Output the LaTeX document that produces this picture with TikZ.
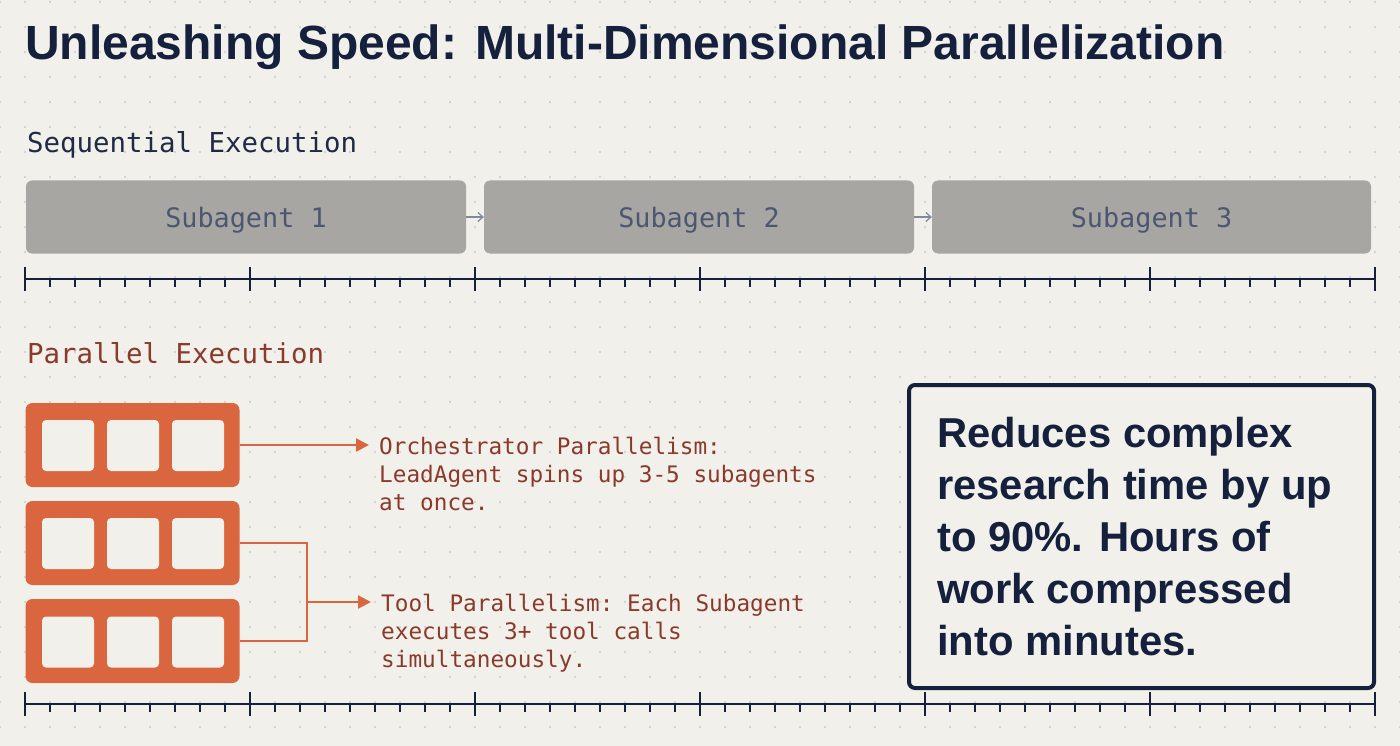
\documentclass[tikz,border=0pt]{standalone}
\usepackage{fontspec}
\setmainfont{Liberation Sans}
\setmonofont{DejaVu Sans Mono}
\usepackage{xcolor}
\usetikzlibrary{arrows.meta,positioning,calc}

\definecolor{bgcol}{HTML}{F2F0EB}
\definecolor{dotcol}{HTML}{C9CBD1}
\definecolor{navy}{HTML}{15203D}
\definecolor{boxgray}{HTML}{A8A6A2}
\definecolor{slate}{HTML}{4B5670}
\definecolor{orangecol}{HTML}{D9663F}
\definecolor{rust}{HTML}{8A3A2A}
\definecolor{arrgray}{HTML}{7F8AA0}

\begin{document}
\begin{tikzpicture}[
    x=1pt, y=-1pt,
    every node/.style={inner sep=0pt},
    heading/.style={anchor=base west, font=\bfseries\fontsize{48}{56}\selectfont, text=navy},
    lane/.style={anchor=base west, font=\ttfamily\fontsize{27.4}{32}\selectfont},
    seqbox/.style={fill=boxgray, rounded corners=6pt, minimum height=73pt, text depth=0pt, text=slate, font=\ttfamily\fontsize{26.8}{32}\selectfont},
    seqarrow/.style={draw=arrgray, line width=1.2pt, -{Straight Barb[length=5pt, width=9pt]}},
    block/.style={fill=orangecol, rounded corners=7pt, minimum width=214pt, minimum height=84pt},
    slot/.style={fill=bgcol, rounded corners=4pt, minimum width=52pt, minimum height=51pt},
    desc/.style={anchor=north west, align=left, text=rust, font=\ttfamily\fontsize{22.7}{28}\selectfont},
    link/.style={draw=orangecol, line width=2.2pt},
    linkarrow/.style={link, -{Triangle[length=13pt, width=13pt]}},
    axis/.style={draw=navy, line width=2.6pt},
    majortick/.style={draw=navy, line width=2.8pt},
    minortick/.style={draw=navy, line width=1.6pt},
]

% Background and dot grid
\useasboundingbox (0,0) rectangle (1400,746);
\fill[bgcol] (0,0) rectangle (1400,746);
\foreach \i in {0,...,56} {
  \foreach \j in {0,...,29} {
    \fill[dotcol] (25*\i,2+25*\j) circle (1.1pt);
  }
}

% Title
\node[heading] (title) at (25,60) {Unleashing Speed: Multi-Dimensional Parallelization};

% Sequential execution
\node[lane, text=navy!90!gray] (seqlabel) at (27,153) {Sequential Execution};
\node[seqbox, minimum width=440pt] (sub1) at (246,217) {Subagent 1};
\node[seqbox, minimum width=430pt] (sub2) at (699,217) {Subagent 2};
\node[seqbox, minimum width=439pt] (sub3) at (1151.5,217) {Subagent 3};
\draw[seqarrow] (sub1) -- (sub2);
\draw[seqarrow] (sub2) -- (sub3);

% Top time axis
\draw[axis] (25,279) -- (1375,279);
\foreach \i in {0,...,54} {
  \draw[minortick] (25+25*\i,279) -- (25+25*\i,287);
}
\foreach \i in {0,...,6} {
  \draw[majortick] (25+225*\i,267) -- (25+225*\i,291);
}

% Parallel execution
\node[lane, text=rust] (parlabel) at (27,363) {Parallel Execution};

% Block 1
\node[block] (blk1) at (132.5,445) {};
\node[slot] (s11) at (68,445.5) {};
\node[slot] (s12) at (133,445.5) {};
\node[slot] (s13) at (198,445.5) {};

% Block 2
\node[block] (blk2) at (132.5,543) {};
\node[slot] (s21) at (68,543.5) {};
\node[slot] (s22) at (133,543.5) {};
\node[slot] (s23) at (198,543.5) {};

% Block 3
\node[block] (blk3) at (132.5,641) {};
\node[slot] (s31) at (68,642) {};
\node[slot] (s32) at (133,642) {};
\node[slot] (s33) at (198,642) {};

% Descriptions
\node[desc] (orch) at (379,437) {Orchestrator Parallelism:\\LeadAgent spins up 3-5 subagents\\at once.};
\node[desc] (tool) at (381,594) {Tool Parallelism: Each Subagent\\executes 3+ tool calls\\simultaneously.};

% Connectors
\coordinate (join) at (307,602);
\draw[linkarrow, shorten >=10pt] (blk1.east) -- (blk1.east -| orch.west);
\draw[link] (blk2.east) -| (join) |- (blk3.east);
\draw[linkarrow, shorten >=10pt] (join) -- (join -| tool.west);

% Summary box
\node[draw=navy, line width=4pt, rounded corners=6pt, fill=bgcol, minimum width=465pt, minimum height=303pt] (sumbox) at (1141.5,536.5) {};
\node[anchor=north west, align=left, text=navy, font=\bfseries\fontsize{41.8}{52}\selectfont] (sumtext) at (937,417) {Reduces complex\\research time by up\\to 90\%. Hours of\\work compressed\\into minutes.};

% Bottom time axis
\draw[axis] (25,704) -- (1375,704);
\foreach \i in {0,...,54} {
  \draw[minortick] (25+25*\i,704) -- (25+25*\i,712);
}
\foreach \i in {0,...,6} {
  \draw[majortick] (25+225*\i,692) -- (25+225*\i,716);
}

\end{tikzpicture}
\end{document}
